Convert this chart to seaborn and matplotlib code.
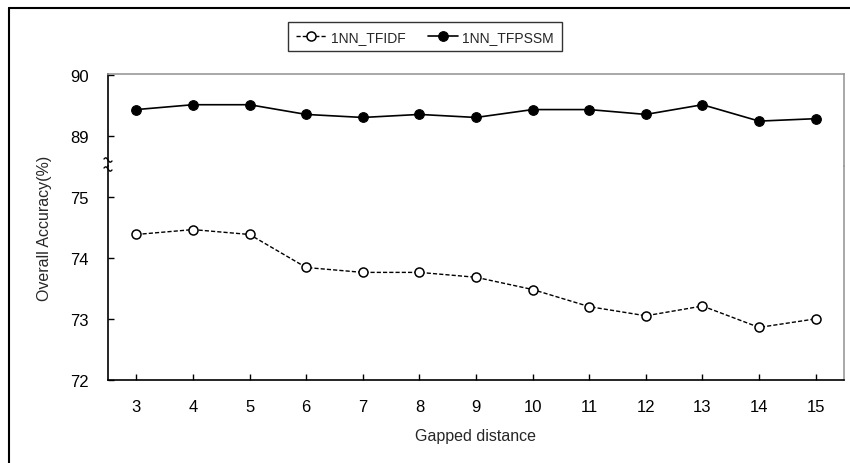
import numpy as np
import pandas as pd
import matplotlib
matplotlib.use("Agg")
import matplotlib.pyplot as plt
from matplotlib.lines import Line2D
import seaborn as sns

# ---- data ----
gapped_distance = [3, 4, 5, 6, 7, 8, 9, 10, 11, 12, 13, 14, 15]
acc_tfidf = [74.38, 74.46, 74.38, 73.84, 73.76, 73.76, 73.68, 73.48, 73.20, 73.05, 73.21, 72.86, 73.00]
acc_tfpssm = [89.43, 89.51, 89.51, 89.35, 89.30, 89.35, 89.30, 89.43, 89.43, 89.35, 89.51, 89.24, 89.28]
lower_ticks = [72, 73, 74, 75]
upper_ticks = [89, 90]
series_names = ["1NN_TFIDF", "1NN_TFPSSM"]

sns.set_style("white")
plt.rcParams["font.family"] = ["Liberation Sans", "DejaVu Sans"]

W, H = 850, 464
fig = plt.figure(figsize=(W / 100, H / 100), dpi=100)

left, right = 108 / W, 844 / W
top_y, brk_y, bot_y = 75, 167, 381
ax_top = fig.add_axes([left, 1 - brk_y / H, right - left, (brk_y - top_y) / H])
ax_bot = fig.add_axes([left, 1 - bot_y / H, right - left, (bot_y - brk_y) / H])

df = pd.DataFrame({"gap": gapped_distance, "tfidf": acc_tfidf, "tfpssm": acc_tfpssm})

sns.lineplot(data=df, x="gap", y="tfpssm", ax=ax_top, color="black", lw=1.2,
             marker="o", markersize=7, markerfacecolor="black", markeredgecolor="black",
             label=series_names[1], legend=False)
sns.lineplot(data=df, x="gap", y="tfidf", ax=ax_bot, color="black", lw=1.0,
             linestyle=(0, (3, 1.5)), marker="o", markersize=6.5, markerfacecolor="white",
             markeredgecolor="black", markeredgewidth=1.1,
             label=series_names[0], legend=False)

for ax in (ax_top, ax_bot):
    ax.set_xlim(2.5, 15.5)
    ax.set_xlabel("")
    ax.set_ylabel("")
    ax.tick_params(axis="both", direction="in", length=4, width=1, colors="black",
                   labelsize=12, pad=14, left=True, bottom=True)
    ax.spines["left"].set_color("black")
    ax.spines["left"].set_linewidth(1.2)
    ax.patch.set_alpha(0)

ax_top.set_ylim(88.5, 90.0164)
ax_top.set_yticks(upper_ticks)
ax_top.set_yticklabels([str(t) for t in upper_ticks])
ax_top.set_xticks([])
ax_top.tick_params(axis="x", bottom=False)
ax_top.spines["bottom"].set_visible(False)
ax_top.spines["top"].set_color("#999999")
ax_top.spines["right"].set_color("#999999")
ax_top.spines["top"].set_linewidth(1.2)
ax_top.spines["right"].set_linewidth(1.2)

ax_bot.set_ylim(72, 75.5)
ax_bot.set_yticks(lower_ticks)
ax_bot.set_yticklabels([str(t) for t in lower_ticks])
ax_bot.set_xticks(gapped_distance)
ax_bot.set_xticklabels([str(g) for g in gapped_distance])
ax_bot.spines["top"].set_visible(False)
ax_bot.spines["right"].set_color("#999999")
ax_bot.spines["right"].set_linewidth(1.2)
ax_bot.spines["bottom"].set_color("black")
ax_bot.spines["bottom"].set_linewidth(1.2)

# axis break mark: two small squiggles on the left spine
t = np.linspace(0, 1, 30)
for yc in (161, 170):
    xs = (104 + 8 * t) / W
    ys = 1 - (yc - 1.6 * np.sin(2 * np.pi * t) + 2.0 * (t - 0.5)) / H
    fig.add_artist(Line2D(xs, ys, transform=fig.transFigure, color="black", lw=1.0))

# axis labels
fig.text((left + right) / 2, 1 - 437 / H, "Gapped distance", ha="center", va="center", fontsize=11.5)
fig.text(45 / W, 1 - 228 / H, "Overall Accuracy(%)", ha="center", va="center",
         rotation=90, fontsize=11.5)

# legend
handles = [ax_bot.lines[0], ax_top.lines[0]]
leg = fig.legend(handles, series_names, loc="upper center", bbox_to_anchor=(0.5, 1 - 16 / H),
                 ncol=2, frameon=True, fancybox=False, handlelength=2.2,
                 columnspacing=1.6, handletextpad=0.3, borderpad=0.55, edgecolor="black",
                 prop={"family": "Liberation Sans", "size": 10})
leg.get_frame().set_linewidth(1.0)

# outer frame (top and left edges)
fig.add_artist(Line2D([9 / W, 1], [1 - 9 / H, 1 - 9 / H], transform=fig.transFigure, color="black", lw=1.5))
fig.add_artist(Line2D([9 / W, 9 / W], [0, 1 - 9 / H], transform=fig.transFigure, color="black", lw=1.5))

fig.savefig("out.png", dpi=100)
